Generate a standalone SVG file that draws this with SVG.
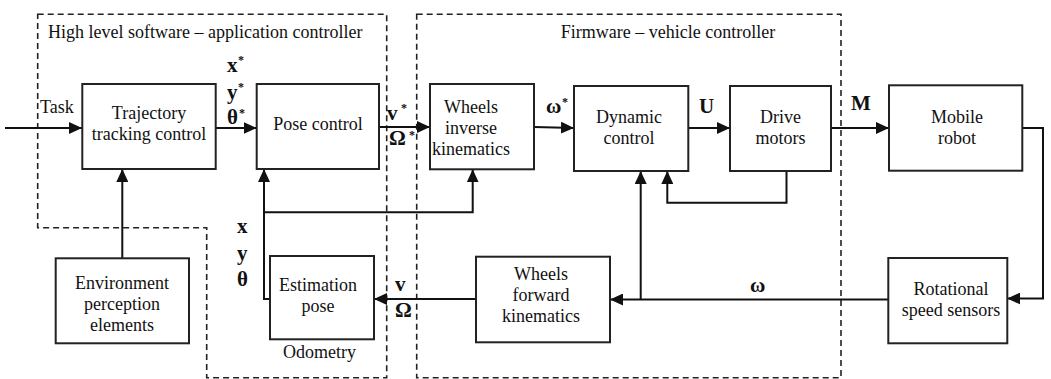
<svg xmlns="http://www.w3.org/2000/svg" width="1051" height="379" viewBox="0 0 1051 379">
<style>
.box{fill:#fff;stroke:#222;stroke-width:2}
.dash{fill:none;stroke:#222;stroke-width:1.6;stroke-dasharray:6,4}
.ln{fill:none;stroke:#111;stroke-width:2}
.t{font-size:18px;text-anchor:middle;fill:#111}
.h{font-size:18px;fill:#111}
.b{font-size:21px;font-weight:bold;fill:#111}
.s{font-size:12px;font-weight:bold;fill:#111}
</style>
<defs>
<marker id="ah" markerUnits="userSpaceOnUse" markerWidth="14" markerHeight="12" refX="13" refY="6" orient="auto">
<path d="M0,0 L13,6 L0,12 z" fill="#111"/>
</marker>
</defs>
<g id="regions">
<polygon class="dash" points="37.7,14.3 386.7,14.3 386.7,377.7 206.7,377.7 206.7,227.7 37.7,227.7"/>
<rect class="dash" x="416.7" y="14.3" width="424.3" height="363.4"/>
<text class="h" font-family="Liberation Serif, serif" x="48" y="38">High level software – application controller</text>
<text class="h" font-family="Liberation Serif, serif" x="668" y="38" text-anchor="middle">Firmware – vehicle controller</text>
</g>
<g id="connectors">
<line class="ln" x1="5" y1="128" x2="82" y2="128" marker-end="url(#ah)"/>
<line class="ln" x1="216" y1="128" x2="256.7" y2="128" marker-end="url(#ah)"/>
<line class="ln" x1="379" y1="127" x2="430" y2="127" marker-end="url(#ah)"/>
<line class="ln" x1="534" y1="127" x2="574" y2="128" marker-end="url(#ah)"/>
<line class="ln" x1="688" y1="128" x2="730" y2="128" marker-end="url(#ah)"/>
<line class="ln" x1="831" y1="128" x2="889" y2="128" marker-end="url(#ah)"/>
<polyline class="ln" points="1022,128 1043,128 1043,298.5 1007.3,298.5" marker-end="url(#ah)"/>
<line class="ln" x1="888.3" y1="299.5" x2="610" y2="299.5" marker-end="url(#ah)"/>
<line class="ln" x1="640.7" y1="299.5" x2="640.7" y2="171" marker-end="url(#ah)"/>
<polyline class="ln" points="786.5,171 786.5,202.7 667.3,202.7 667.3,171" marker-end="url(#ah)"/>
<line class="ln" x1="476" y1="299" x2="374" y2="299" marker-end="url(#ah)"/>
<polyline class="ln" points="270,299 264,299 264,169" marker-end="url(#ah)"/>
<polyline class="ln" points="264,212.3 472.7,212.3 472.7,169.3" marker-end="url(#ah)"/>
<line class="ln" x1="122.3" y1="258.3" x2="122.3" y2="169" marker-end="url(#ah)"/>
</g>
<g id="labels">
<text class="h" font-family="Liberation Serif, serif" x="40" y="113">Task</text>
<text class="b" font-family="Liberation Serif, serif" x="227" y="72">x</text><text class="s" font-family="Liberation Serif, serif" x="238" y="63.5">*</text>
<text class="b" font-family="Liberation Serif, serif" x="227" y="99">y</text><text class="s" font-family="Liberation Serif, serif" x="238" y="90.5">*</text>
<text class="b" font-family="Liberation Serif, serif" x="227" y="124">θ</text><text class="s" font-family="Liberation Serif, serif" x="239" y="117">*</text>
<text class="b" font-family="Liberation Serif, serif" x="387" y="120">v</text><text class="s" font-family="Liberation Serif, serif" x="401" y="111.5">*</text>
<text class="b" font-family="Liberation Serif, serif" x="389" y="145">Ω</text><text class="s" font-family="Liberation Serif, serif" x="409" y="138.5">*</text>
<text class="b" font-family="Liberation Serif, serif" x="546" y="113">ω</text><text class="s" font-family="Liberation Serif, serif" x="562" y="106">*</text>
<text class="b" font-family="Liberation Serif, serif" x="699" y="113">U</text>
<text class="b" font-family="Liberation Serif, serif" x="851" y="110">M</text>
<text class="b" font-family="Liberation Serif, serif" x="237" y="233">x</text>
<text class="b" font-family="Liberation Serif, serif" x="237" y="260">y</text>
<text class="b" font-family="Liberation Serif, serif" x="237" y="286">θ</text>
<text class="b" font-family="Liberation Serif, serif" x="395" y="291">v</text>
<text class="b" font-family="Liberation Serif, serif" x="395" y="317">Ω</text>
<text class="b" font-family="Liberation Serif, serif" x="750" y="292">ω</text>
<text class="t" font-family="Liberation Serif, serif" x="319.5" y="358">Odometry</text>
</g>
<g id="trajectory">
<rect class="box" x="82.3" y="84" width="133.4" height="85"/>
<text class="t" font-family="Liberation Serif, serif" x="149" y="119">Trajectory</text>
<text class="t" font-family="Liberation Serif, serif" x="149" y="140">tracking control</text>
</g>
<g id="pose-control">
<rect class="box" x="256.7" y="84" width="122.3" height="85"/>
<text class="t" font-family="Liberation Serif, serif" x="318" y="130">Pose control</text>
</g>
<g id="wheels-inverse">
<rect class="box" x="430" y="84" width="104" height="85.3"/>
<text class="t" font-family="Liberation Serif, serif" x="471" y="113">Wheels</text>
<text class="t" font-family="Liberation Serif, serif" x="471" y="134">inverse</text>
<text class="t" font-family="Liberation Serif, serif" x="471" y="155">kinematics</text>
</g>
<g id="dynamic-control">
<rect class="box" x="574" y="86" width="114.3" height="85"/>
<text class="t" font-family="Liberation Serif, serif" x="629" y="123">Dynamic</text>
<text class="t" font-family="Liberation Serif, serif" x="629" y="144">control</text>
</g>
<g id="drive-motors">
<rect class="box" x="730" y="86" width="101" height="85"/>
<text class="t" font-family="Liberation Serif, serif" x="780.5" y="123">Drive</text>
<text class="t" font-family="Liberation Serif, serif" x="780.5" y="144">motors</text>
</g>
<g id="mobile-robot">
<rect class="box" x="889" y="85.3" width="133.3" height="85.4"/>
<text class="t" font-family="Liberation Serif, serif" x="957" y="123">Mobile</text>
<text class="t" font-family="Liberation Serif, serif" x="957" y="144">robot</text>
</g>
<g id="environment">
<rect class="box" x="55.7" y="258.3" width="133.3" height="85"/>
<text class="t" font-family="Liberation Serif, serif" x="122" y="289">Environment</text>
<text class="t" font-family="Liberation Serif, serif" x="122" y="310">perception</text>
<text class="t" font-family="Liberation Serif, serif" x="122" y="331">elements</text>
</g>
<g id="estimation-pose">
<rect class="box" x="270" y="256" width="104" height="83.3"/>
<text class="t" font-family="Liberation Serif, serif" x="318" y="291">Estimation</text>
<text class="t" font-family="Liberation Serif, serif" x="318" y="312">pose</text>
</g>
<g id="wheels-forward">
<rect class="box" x="476" y="256.7" width="134" height="85.6"/>
<text class="t" font-family="Liberation Serif, serif" x="541" y="280">Wheels</text>
<text class="t" font-family="Liberation Serif, serif" x="541" y="301">forward</text>
<text class="t" font-family="Liberation Serif, serif" x="541" y="322">kinematics</text>
</g>
<g id="rotational-sensors">
<rect class="box" x="888.3" y="258" width="119" height="85.3"/>
<text class="t" font-family="Liberation Serif, serif" x="951" y="295">Rotational</text>
<text class="t" font-family="Liberation Serif, serif" x="951" y="316">speed sensors</text>
</g>
</svg>
